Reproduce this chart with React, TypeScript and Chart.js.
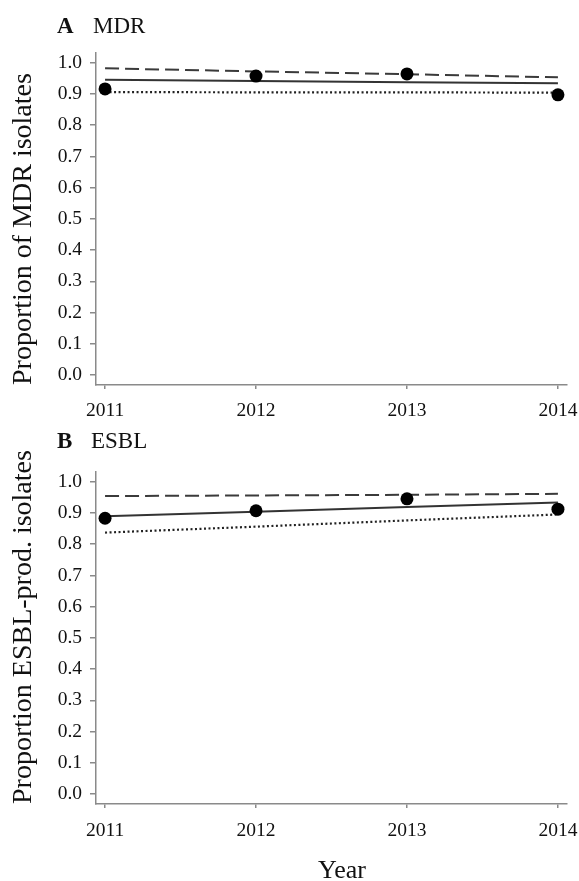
import React, { useEffect, useRef } from "react";
import { Chart, registerables } from "chart.js";
Chart.register(...registerables);

// ---- data ----
const years = [2011, 2012, 2013, 2014];
const yTickValues = [0, 0.1, 0.2, 0.3, 0.4, 0.5, 0.6, 0.7, 0.8, 0.9, 1.0];

const mdrObserved = [0.916, 0.957, 0.964, 0.897];
const mdrUpper = [0.982, 0.972, 0.963, 0.953];
const mdrFit = [0.945, 0.941, 0.937, 0.934];
const mdrLower = [0.906, 0.905, 0.905, 0.904];

const esblObserved = [0.883, 0.907, 0.945, 0.912];
const esblUpper = [0.954, 0.956, 0.958, 0.961];
const esblFit = [0.889, 0.904, 0.919, 0.933];
const esblLower = [0.837, 0.856, 0.876, 0.895];

const FONT = "'Liberation Serif', 'Times New Roman', serif";
const AXIS_GRAY = "#8a8a8a";
const TEXT = "#111";

function toXY(vals: number[]) {
  return years.map((x, i) => ({ x, y: vals[i] }));
}

function makeConfig(
  observed: number[],
  upper: number[],
  fit: number[],
  lower: number[],
  yTitle: string,
  height: number,
  areaTop: number,
  areaBottom: number,
  xPad: number
): any {
  return {
    type: "line",
    data: {
      datasets: [
        {
          label: "observed",
          data: toXY(observed),
          showLine: false,
          pointRadius: 6.5,
          pointBackgroundColor: "#000",
          pointBorderColor: "#000",
          pointBorderWidth: 0,
          borderColor: "#000",
        },
        {
          label: "upper",
          data: toXY(upper),
          borderColor: "#3a3a3a",
          borderWidth: 2,
          borderDash: [14, 6],
          pointRadius: 0,
          tension: 0,
          fill: false,
        },
        {
          label: "fit",
          data: toXY(fit),
          borderColor: "#333",
          borderWidth: 2,
          pointRadius: 0,
          tension: 0,
          fill: false,
        },
        {
          label: "lower",
          data: toXY(lower),
          borderColor: "#222",
          borderWidth: 2.2,
          borderDash: [2, 2.5],
          pointRadius: 0,
          tension: 0,
          fill: false,
        },
      ],
    },
    options: {
      animation: false,
      responsive: false,
      devicePixelRatio: 1,
      layout: { padding: { left: 0, right: 12, top: areaTop, bottom: 0 } },
      plugins: {
        legend: { display: false },
        tooltip: { enabled: false },
        title: { display: false },
      },
      scales: {
        x: {
          type: "linear",
          min: 2010.94,
          max: 2014.06,
          afterBuildTicks: (s: any) => {
            s.ticks = years.map((v) => ({ value: v }));
          },
          afterFit: (s: any) => {
            s.height = height - areaBottom;
            s.paddingLeft = 0;
            s.paddingRight = 0;
          },
          ticks: {
            callback: (v: any) => String(v),
            font: { family: FONT, size: 19.5 },
            color: TEXT,
            padding: xPad,
            maxRotation: 0,
            autoSkip: false,
          },
          grid: {
            drawOnChartArea: false,
            drawTicks: true,
            tickLength: 4,
            color: AXIS_GRAY,
            lineWidth: 1.5,
          },
          border: { display: true, color: AXIS_GRAY, width: 1.5 },
        },
        y: {
          type: "linear",
          min: -0.032,
          max: 1.031,
          afterBuildTicks: (s: any) => {
            s.ticks = yTickValues.map((v) => ({ value: v }));
          },
          afterFit: (s: any) => {
            s.width = 96;
            s.paddingTop = 0;
            s.paddingBottom = 0;
          },
          ticks: {
            callback: (v: any) => Number(v).toFixed(1),
            font: { family: FONT, size: 19.5 },
            color: TEXT,
            padding: 8,
            autoSkip: false,
          },
          grid: {
            drawOnChartArea: false,
            drawTicks: true,
            tickLength: 6,
            color: AXIS_GRAY,
            lineWidth: 1.5,
          },
          border: { display: true, color: AXIS_GRAY, width: 1.5 },
          title: {
            display: true,
            text: yTitle,
            align: "start",
            color: TEXT,
            font: { family: FONT, size: 28 },
            padding: { top: 7, bottom: 0 },
          },
        },
      },
    },
  };
}

function Panel(props: {
  top: number;
  height: number;
  areaTop: number;
  areaBottom: number;
  xPad: number;
  observed: number[];
  upper: number[];
  fit: number[];
  lower: number[];
  yTitle: string;
}) {
  const ref = useRef<HTMLCanvasElement | null>(null);
  useEffect(() => {
    if (!ref.current) return;
    const chart = new Chart(
      ref.current,
      makeConfig(
        props.observed,
        props.upper,
        props.fit,
        props.lower,
        props.yTitle,
        props.height,
        props.areaTop,
        props.areaBottom,
        props.xPad
      )
    );
    return () => chart.destroy();
  }, []);
  return (
    <canvas
      ref={ref}
      width={579}
      height={props.height}
      style={{ position: "absolute", left: 0, top: props.top, width: 579, height: props.height }}
    />
  );
}

const labelStyle: React.CSSProperties = {
  position: "absolute",
  fontFamily: FONT,
  fontSize: 23,
  lineHeight: "23px",
  color: TEXT,
  whiteSpace: "nowrap",
};

export default function App() {
  return (
    <div
      style={{
        position: "absolute",
        left: 0,
        top: 0,
        width: 579,
        height: 881,
        overflow: "hidden",
        background: "#fff",
        fontFamily: FONT,
      }}
    >
      <Panel
        top={0}
        height={420}
        areaTop={53}
        areaBottom={385}
        xPad={10}
        observed={mdrObserved}
        upper={mdrUpper}
        fit={mdrFit}
        lower={mdrLower}
        yTitle="Proportion of MDR isolates"
      />
      <Panel
        top={420}
        height={461}
        areaTop={52}
        areaBottom={384}
        xPad={11}
        observed={esblObserved}
        upper={esblUpper}
        fit={esblFit}
        lower={esblLower}
        yTitle="Proportion ESBL-prod. isolates"
      />
      <div style={{ ...labelStyle, left: 57, top: 14, fontWeight: "bold" }}>A</div>
      <div style={{ ...labelStyle, left: 93, top: 14 }}>MDR</div>
      <div style={{ ...labelStyle, left: 57, top: 429, fontWeight: "bold" }}>B</div>
      <div style={{ ...labelStyle, left: 91, top: 429 }}>ESBL</div>
      <div
        style={{
          position: "absolute",
          left: 318,
          top: 857,
          fontFamily: FONT,
          fontSize: 26,
          lineHeight: "26px",
          color: TEXT,
          whiteSpace: "nowrap",
        }}
      >
        Year
      </div>
    </div>
  );
}
